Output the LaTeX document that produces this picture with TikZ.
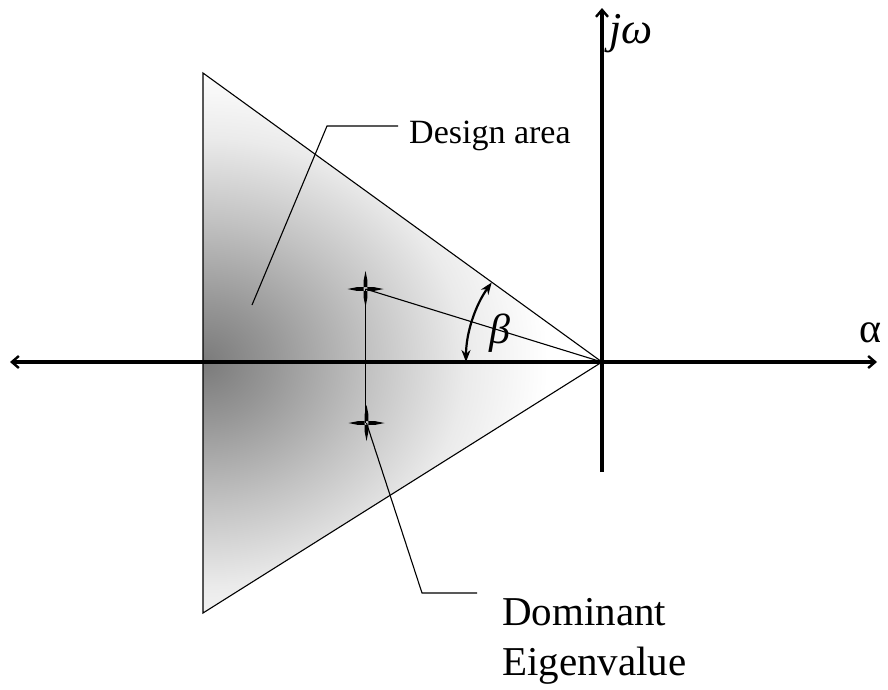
\documentclass[tikz,border=0pt]{standalone}
\usepackage{fontspec}
\setmainfont{Liberation Serif}
\usetikzlibrary{arrows.meta}
\pgfdeclareradialshading{regshade}{\pgfpoint{0bp}{0bp}}{color(0bp)=(black!52); color(5bp)=(black!41); color(12bp)=(black!24); color(19bp)=(black!8); color(25bp)=(white); color(50bp)=(white)}
\tikzset{
  axisline/.style={line width=3.2pt},
  edgeline/.style={line width=1.1pt},
  leader/.style={line width=1.1pt},
  tipA/.style={-{Straight Barb[length=7pt,width=12pt,line width=2.4pt]}},
  tipB/.style={{Straight Barb[length=7pt,width=12pt,line width=2.4pt]}-{Straight Barb[length=7pt,width=12pt,line width=2.4pt]}},
  arcline/.style={line width=2.2pt,{Stealth[length=12pt,width=9pt]}-{Stealth[length=12pt,width=9pt]}},
  lbl/.style={inner sep=0pt},
}
\newcommand\eigcross[1]{\fill[shift={(#1)}] (0,-18) -- (1.8,-9) -- (1.8,9) -- (0,18) -- (-1.8,9) -- (-1.8,-9) -- cycle (-18,0) -- (-9,1.8) -- (9,1.8) -- (18,0) -- (9,-1.8) -- (-9,-1.8) -- cycle;}
\begin{document}
\begin{tikzpicture}[x=1pt,y=-1pt]
\useasboundingbox (0,0) rectangle (888,689);
% key points
\coordinate (O) at (602,362);
\coordinate (TL) at (203,73);
\coordinate (BL) at (203,613);
\coordinate (AL) at (10,362);
\coordinate (AR) at (877,362);
\coordinate (VB) at (602,472);
\coordinate (VT) at (602,8);
\coordinate (E1) at (365.5,289);
\coordinate (E1b) at (365.5,423);
\coordinate (E2) at (366.5,423);
\coordinate (AS) at (466,362);
% shaded region
\begin{scope}
  \clip (TL) -- (O) -- (BL) -- cycle;
  \shade[shading=regshade] (203,362) ellipse [x radius=345, y radius=295];
\end{scope}
\draw[edgeline] (TL) -- (O) -- (BL) -- cycle;
% axes
\draw[axisline,tipB] (AL) -- (AR);
\draw[axisline,tipA] (VB) -- (VT);
% eigenvalues
\draw[leader] (E1) -- (E1b);
\draw[leader] (E1) -- (O);
\eigcross{E1}
\eigcross{E2}
% angle
\draw[arcline] (AS) arc[start angle=180, end angle=215.8, radius=136];
% labels
\node[lbl,font=\fontsize{42}{42}\selectfont\itshape] (beta) at (500,333) {β};
\node[lbl,font=\fontsize{42}{42}\selectfont, anchor=center] (alpha) at (870,333) {α};
\node[lbl,font=\fontsize{44}{44}\selectfont\itshape, anchor=base west] (jw) at (609,43) {jω};
\node[lbl,font=\fontsize{34}{34}\selectfont, anchor=base west] (design) at (409,143) {Design area};
\node[lbl,font=\fontsize{41}{41}\selectfont, anchor=base west] (dom) at (502,625) {Dominant};
\node[lbl,font=\fontsize{41}{41}\selectfont, anchor=base west] (eig) at (502,675) {Eigenvalue};
% leaders
\coordinate (D1) at (252,305);
\coordinate (D2) at (327,126);
\coordinate (D3) at (398,126);
\draw[leader] (D1) -- (D2) -- (D3);
\coordinate (G2) at (422,593);
\coordinate (G3) at (477,593);
\draw[leader] (E2) -- (G2) -- (G3);
\end{tikzpicture}
\end{document}
